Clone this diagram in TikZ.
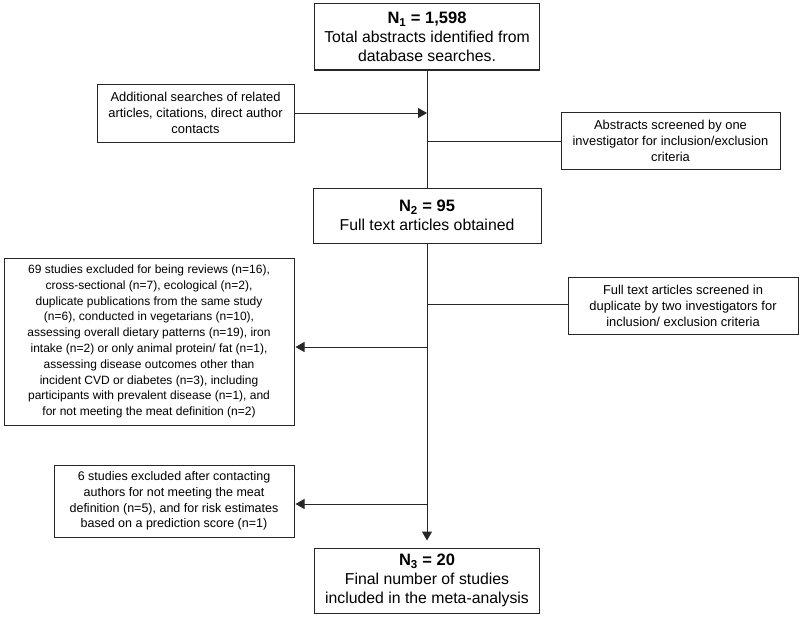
\documentclass[tikz,border=0pt]{standalone}
\usepackage{fontspec}
\setmainfont{Liberation Sans}
\usetikzlibrary{arrows.meta}
\newcommand{\ttlfont}{\bfseries\fontsize{16.5}{19}\selectfont}
\begin{document}
\begin{tikzpicture}[x=1pt,y=-1pt,
 box/.style={draw=black!85,line width=1pt,align=center,inner sep=0pt,font=\fontsize{12.9}{16}\selectfont},
 bigbox/.style={box,font=\fontsize{15.8}{19}\selectfont},
 ln/.style={draw=black!85,line width=1pt},
 arr/.style={ln,-{Triangle[length=9pt,width=10pt]}}]
\useasboundingbox (0,0) rectangle (800,618);
\node[bigbox,minimum width=225pt,minimum height=66pt] (n1) at (427,37)
 {{\ttlfont N\textsubscript{1} = 1,598}\\Total abstracts identified from\\database searches.};
\node[box,minimum width=197pt,minimum height=58pt] (add) at (195.5,113)
 {Additional searches of related\\articles, citations, direct author\\contacts};
\node[box,minimum width=219pt,minimum height=57pt] (scr1) at (670.5,140.5)
 {Abstracts screened by one\\investigator for inclusion/exclusion\\criteria};
\node[bigbox,minimum width=228pt,minimum height=55pt] (n2) at (427,215.5)
 {{\ttlfont N\textsubscript{2} = 95}\\Full text articles obtained};
\node[box,minimum width=230pt,minimum height=57pt] (scr2) at (683,305.5)
 {Full text articles screened in\\duplicate by two investigators for\\inclusion/ exclusion criteria};
\node[box,font=\fontsize{12}{15.8}\selectfont,minimum width=290pt,minimum height=167pt] (ex1) at (149,341.5)
 {69 studies excluded for being reviews (n=16),\\cross-sectional (n=7), ecological (n=2),\\duplicate publications from the same study\\(n=6), conducted in vegetarians (n=10),\\assessing overall dietary patterns (n=19), iron\\intake (n=2) or only animal protein/ fat (n=1),\\assessing disease outcomes other than\\incident CVD or diabetes (n=3), including\\participants with prevalent disease (n=1), and\\for not meeting the meat definition (n=2)};
\node[box,font=\fontsize{12.5}{15.8}\selectfont,minimum width=240pt,minimum height=72pt] (ex2) at (174,501)
 {6 studies excluded after contacting\\authors for not meeting the meat\\definition (n=5), and for risk estimates\\based on a prediction score (n=1)};
\node[bigbox,minimum width=225pt,minimum height=65pt] (n3) at (427,580.5)
 {{\ttlfont N\textsubscript{3} = 20}\\Final number of studies\\included in the meta-analysis};
\coordinate (ya) at (0,113);
\coordinate (yb) at (0,141);
\coordinate (yc) at (0,304);
\coordinate (yd) at (0,347);
\coordinate (ye) at (0,504);
\draw[ln] (n1.south) -- (n2.north);
\draw[arr] (add.east |- ya) -- (n1.south |- ya);
\draw[ln] (scr1.west |- yb) -- (n1.south |- yb);
\draw[arr,shorten >=7pt] (n2.south) -- (n3.north);
\draw[ln] (scr2.west |- yc) -- (n2.south |- yc);
\draw[arr] (n2.south |- yd) -- ([xshift=1pt]ex1.east |- yd);
\draw[arr] (n2.south |- ye) -- ([xshift=1pt]ex2.east |- ye);
\end{tikzpicture}
\end{document}
